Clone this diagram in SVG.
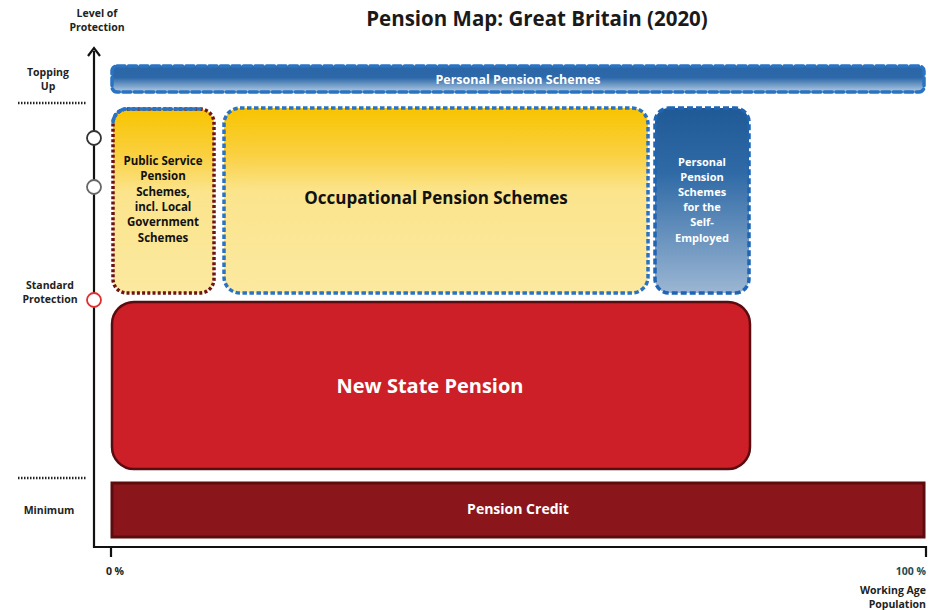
<svg xmlns="http://www.w3.org/2000/svg" width="942" height="610" viewBox="0 0 942 610">
<style>
text{font-family:"Open Sans","Noto Sans","Liberation Sans",sans-serif;font-weight:700;}
.ax{font-size:10.5px;fill:#222;text-anchor:middle;}
.wl{fill:#fff;text-anchor:middle;}
.bl{fill:#111;text-anchor:middle;}
.blued{fill:none;stroke:#2a73c3;stroke-width:3.5;stroke-dasharray:8 3.5;stroke-linecap:round;}
.dot{fill:none;stroke:#222;stroke-width:2.5;stroke-dasharray:1.5 1.5;}
</style>
<defs>
<linearGradient id="gBlue" x1="0" y1="0" x2="0" y2="1">
<stop offset="0" stop-color="#1f5a96"/><stop offset="0.35" stop-color="#2f6aa6"/><stop offset="1" stop-color="#9bb6d3"/>
</linearGradient>
<linearGradient id="gBlueBand" x1="0" y1="0" x2="0" y2="1">
<stop offset="0" stop-color="#2a65a6"/><stop offset="0.45" stop-color="#2d69aa"/><stop offset="1" stop-color="#b5cbe2"/>
</linearGradient>
<linearGradient id="gYellow" x1="0" y1="0" x2="0" y2="1">
<stop offset="0" stop-color="#f8c400"/><stop offset="0.25" stop-color="#fad040"/><stop offset="0.45" stop-color="#fbe48c"/><stop offset="1" stop-color="#fbe9a0"/>
</linearGradient>
</defs>
<text x="537" y="26" font-size="20.5" text-anchor="middle" fill="#1a1a1a">Pension Map: Great Britain (2020)</text>
<g id="axes">
<text class="ax" x="97" y="17">Level of</text>
<text class="ax" x="97" y="31">Protection</text>
<text class="ax" x="48" y="76">Topping</text>
<text class="ax" x="48" y="90">Up</text>
<text class="ax" x="50" y="289">Standard</text>
<text class="ax" x="50" y="303">Protection</text>
<text class="ax" x="49" y="514">Minimum</text>
<text class="ax" x="115" y="575">0 %</text>
<text x="926" y="575" font-size="10.5" text-anchor="end" fill="#1d4b4f">100 %</text>
<text x="926" y="594" font-size="10.5" text-anchor="end" fill="#222">Working Age</text>
<text x="926" y="608" font-size="10.5" text-anchor="end" fill="#222">Population</text>
<line class="dot" x1="18" y1="103" x2="86" y2="103"/>
<line class="dot" x1="18" y1="478" x2="86" y2="478"/>
<path d="M94 51 V547 H926 V557" fill="none" stroke="#111" stroke-width="2.2"/>
<path d="M88 56 L94 48 L100 56" fill="none" stroke="#111" stroke-width="2.2"/>
<line x1="111" y1="547" x2="111" y2="557" stroke="#111" stroke-width="2.2"/>
<circle cx="94" cy="138" r="7" fill="#fff" stroke="#333" stroke-width="1.8"/>
<circle cx="94" cy="187" r="7" fill="#fff" stroke="#666" stroke-width="1.8"/>
<circle cx="94" cy="300" r="7" fill="#fff" stroke="#e03030" stroke-width="1.8"/>
</g>
<g id="personal">
<rect x="112" y="66" width="812" height="26" rx="5" fill="url(#gBlueBand)"/>
<rect class="blued" x="112" y="66" width="812" height="26" rx="5"/>
<text class="wl" x="518" y="84" font-size="12.5">Personal Pension Schemes</text>
</g>
<g id="public">
<rect x="113" y="109" width="101" height="184" rx="14" fill="url(#gYellow)"/>
<rect x="113" y="109" width="101" height="184" rx="14" fill="none" stroke="#6e1416" stroke-width="3.5" stroke-dasharray="3 2.2"/>
<path d="M113 122 A14 14 0 0 1 127 109 H200" class="blued" stroke-dasharray="3 2"/>
<text class="bl" x="163" y="165" font-size="11.5">Public Service</text>
<text class="bl" x="163" y="180" font-size="11.5">Pension</text>
<text class="bl" x="163" y="196" font-size="11.5">Schemes,</text>
<text class="bl" x="163" y="211" font-size="11.5">incl. Local</text>
<text class="bl" x="163" y="226" font-size="11.5">Government</text>
<text class="bl" x="163" y="242" font-size="11.5">Schemes</text>
</g>
<g id="occupational">
<rect x="224" y="108" width="424" height="185" rx="16" fill="url(#gYellow)"/>
<rect x="224" y="108" width="424" height="185" rx="16" fill="none" stroke="#2a73c3" stroke-width="3.5" stroke-dasharray="4.5 2.5"/>
<text class="bl" x="436" y="204" font-size="17">Occupational Pension Schemes</text>
</g>
<g id="selfemployed">
<rect x="655" y="108" width="94" height="185" rx="14" fill="url(#gBlue)"/>
<rect x="655" y="108" width="94" height="185" rx="14" fill="none" stroke="#1f64b5" stroke-width="3.5" stroke-dasharray="6 3"/>
<text class="wl" x="702" y="166" font-size="11">Personal</text>
<text class="wl" x="702" y="181" font-size="11">Pension</text>
<text class="wl" x="702" y="196" font-size="11">Schemes</text>
<text class="wl" x="702" y="211" font-size="11">for the</text>
<text class="wl" x="702" y="226" font-size="11">Self-</text>
<text class="wl" x="702" y="242" font-size="11">Employed</text>
</g>
<g id="statepension">
<rect x="112" y="302" width="638" height="167" rx="22" fill="#cc1f27" stroke="#5a0d10" stroke-width="2.5"/>
<text class="wl" x="430" y="393" font-size="20">New State Pension</text>
</g>
<g id="pensioncredit">
<rect x="112" y="483" width="812" height="54" fill="#8a161b" stroke="#5c0c0f" stroke-width="3"/>
<text class="wl" x="518" y="514" font-size="14">Pension Credit</text>
</g>
<g id="connectors"></g>
</svg>
